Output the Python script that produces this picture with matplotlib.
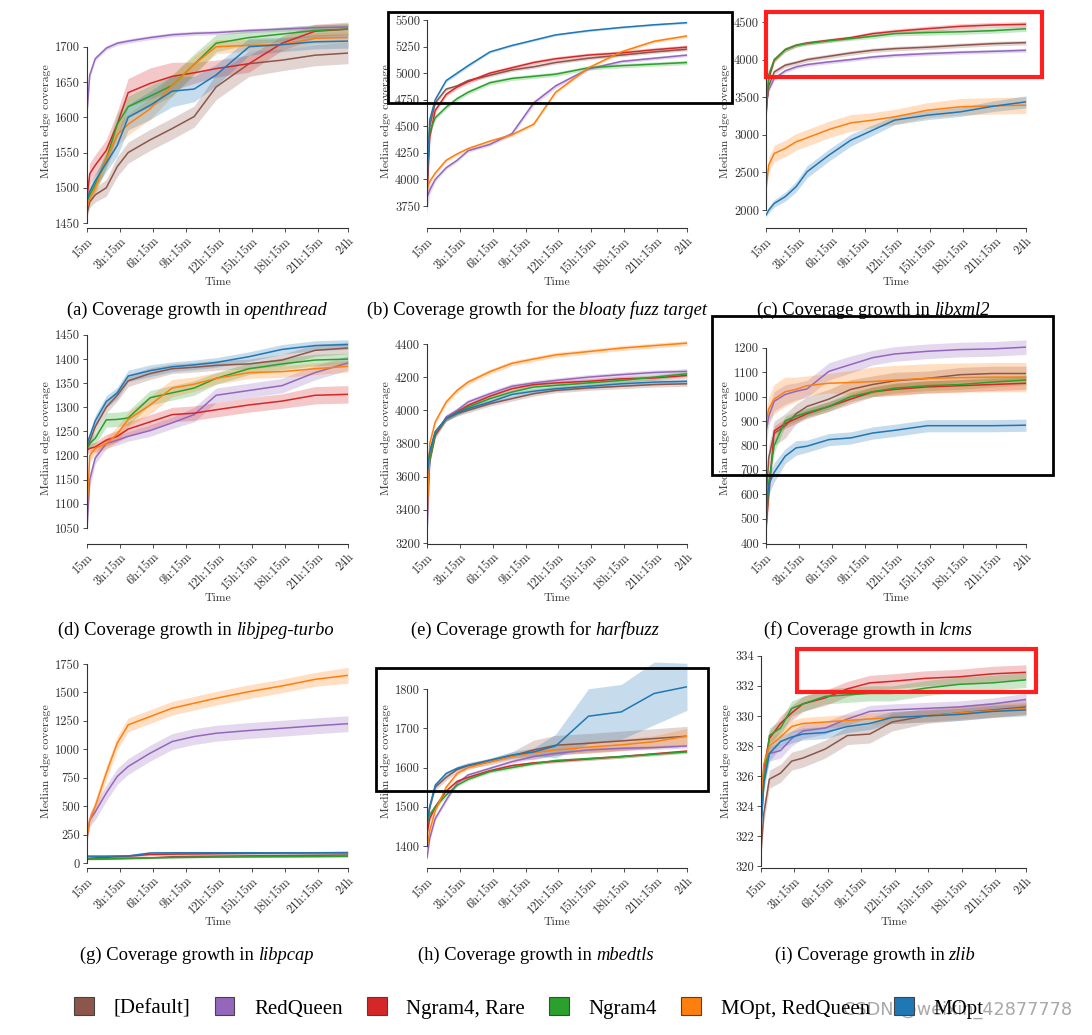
import matplotlib
matplotlib.use("Agg")
import matplotlib.pyplot as plt
import numpy as np
from matplotlib.patches import Patch, Rectangle
from matplotlib.offsetbox import AnchoredOffsetbox, HPacker, TextArea

W, H = 1092, 1035

# sample times (minutes since start)
TIME_MIN = [15, 30, 60, 120, 180, 240, 360, 480, 600, 720, 900, 1080, 1260, 1440]
XTICK_POS = [15, 195, 375, 555, 735, 915, 1095, 1275, 1440]
XTICK_LABELS = ["15m", "3h:15m", "6h:15m", "9h:15m", "12h:15m", "15h:15m",
                "18h:15m", "21h:15m", "24h"]

CONFIGS = ["[Default]", "RedQueen", "Ngram4, Rare", "Ngram4", "MOpt, RedQueen", "MOpt"]
COLORS = ["#8c564b", "#9467bd", "#d62728", "#2ca02c", "#ff7f0e", "#1f77b4"]

# median coverage per config (order as CONFIGS), and half-width of the band
OPENTHREAD_MEDIAN = [
    [1463, 1480, 1490, 1500, 1530, 1550, 1568, 1584, 1601, 1643, 1676, 1681, 1688, 1691],
    [1607, 1660, 1683, 1698, 1705, 1708, 1713, 1717, 1719, 1720, 1723, 1725, 1727, 1728],
    [1485, 1520, 1532, 1553, 1590, 1635, 1648, 1658, 1663, 1669, 1676, 1705, 1722, 1725],
    [1480, 1490, 1505, 1540, 1590, 1615, 1630, 1645, 1675, 1705, 1713, 1718, 1723, 1725],
    [1472, 1485, 1500, 1540, 1575, 1590, 1612, 1645, 1675, 1700, 1702, 1703, 1712, 1713],
    [1483, 1495, 1510, 1535, 1560, 1600, 1617, 1637, 1640, 1660, 1700, 1703, 1707, 1708],
]
OPENTHREAD_SPREAD = [
    [5, 8, 10, 12, 14, 15, 15, 15, 15, 18, 18, 15, 15, 15],
    [8, 5, 3, 3, 3, 3, 3, 3, 3, 3, 3, 3, 4, 4],
    [8, 15, 15, 15, 18, 20, 22, 20, 15, 12, 12, 10, 10, 10],
    [5, 8, 10, 12, 15, 15, 15, 15, 15, 12, 10, 10, 8, 8],
    [5, 8, 10, 12, 15, 15, 15, 15, 12, 10, 8, 8, 8, 8],
    [5, 8, 10, 12, 15, 18, 20, 22, 18, 15, 12, 10, 10, 10],
]

BLOATY_MEDIAN = [
    [3900, 4500, 4720, 4850, 4880, 4930, 4980, 5030, 5060, 5100, 5140, 5170, 5200, 5225],
    [3830, 3900, 4000, 4110, 4180, 4270, 4330, 4430, 4720, 4880, 5040, 5110, 5140, 5170],
    [3850, 4400, 4650, 4800, 4870, 4920, 5000, 5050, 5100, 5135, 5170, 5190, 5220, 5245],
    [4150, 4450, 4580, 4680, 4760, 4820, 4910, 4950, 4970, 4990, 5050, 5070, 5085, 5100],
    [3920, 3980, 4060, 4180, 4240, 4290, 4360, 4420, 4520, 4820, 5050, 5200, 5300, 5350],
    [3950, 4560, 4750, 4930, 5000, 5070, 5200, 5260, 5310, 5360, 5400, 5430, 5455, 5475],
]
BLOATY_SPREAD = [
    [80, 30, 20, 15, 15, 15, 15, 15, 15, 15, 15, 15, 15, 15],
    [150, 40, 20, 15, 15, 15, 15, 20, 25, 20, 15, 15, 15, 15],
    [150, 40, 20, 20, 20, 20, 20, 20, 20, 20, 20, 20, 20, 20],
    [60, 30, 20, 20, 20, 20, 20, 20, 20, 20, 20, 20, 20, 20],
    [60, 20, 15, 15, 15, 15, 15, 15, 15, 15, 15, 15, 15, 15],
    [60, 30, 15, 15, 15, 15, 10, 10, 10, 10, 10, 10, 10, 10],
]

LIBXML2_MEDIAN = [
    [3350, 3650, 3836, 3925, 3960, 4000, 4044, 4088, 4124, 4146, 4165, 4190, 4212, 4226],
    [3400, 3600, 3748, 3850, 3903, 3934, 3969, 4000, 4035, 4058, 4080, 4097, 4110, 4124],
    [3239, 3748, 3991, 4133, 4190, 4221, 4257, 4292, 4345, 4376, 4411, 4442, 4460, 4469],
    [3280, 3800, 4000, 4130, 4190, 4215, 4250, 4280, 4310, 4345, 4360, 4370, 4385, 4410],
    [2287, 2600, 2752, 2818, 2907, 2960, 3071, 3159, 3195, 3239, 3327, 3372, 3385, 3394],
    [1934, 2000, 2088, 2177, 2310, 2509, 2730, 2929, 3062, 3195, 3261, 3305, 3380, 3438],
]
LIBXML2_SPREAD = [
    [40, 30, 30, 30, 30, 30, 30, 30, 30, 30, 30, 30, 30, 30],
    [40, 30, 25, 25, 25, 25, 25, 25, 25, 25, 25, 25, 25, 25],
    [40, 40, 30, 30, 25, 25, 25, 25, 30, 30, 35, 35, 35, 35],
    [40, 40, 30, 30, 25, 25, 25, 25, 30, 30, 35, 35, 35, 35],
    [60, 100, 110, 110, 110, 110, 110, 110, 100, 100, 100, 110, 110, 110],
    [30, 40, 50, 60, 70, 80, 80, 80, 70, 60, 60, 60, 70, 80],
]

LIBJPEG_MEDIAN = [
    [1220, 1230, 1260, 1300, 1325, 1355, 1370, 1380, 1383, 1387, 1390, 1398, 1418, 1423],
    [1050, 1150, 1195, 1225, 1232, 1240, 1252, 1268, 1285, 1325, 1335, 1345, 1372, 1392],
    [1212, 1215, 1218, 1232, 1240, 1255, 1270, 1285, 1288, 1295, 1305, 1313, 1325, 1327],
    [1215, 1225, 1236, 1274, 1275, 1278, 1320, 1330, 1340, 1360, 1380, 1390, 1398, 1400],
    [1085, 1200, 1215, 1225, 1245, 1275, 1305, 1340, 1348, 1360, 1372, 1374, 1380, 1385],
    [1225, 1240, 1272, 1312, 1330, 1365, 1376, 1384, 1388, 1393, 1405, 1420, 1428, 1430],
]
LIBJPEG_SPREAD = [
    [8, 10, 10, 12, 12, 12, 12, 10, 10, 10, 10, 12, 12, 12],
    [15, 15, 12, 10, 10, 10, 12, 12, 15, 15, 15, 15, 15, 15],
    [8, 10, 10, 12, 12, 15, 15, 15, 15, 15, 15, 15, 18, 18],
    [8, 10, 12, 15, 15, 15, 15, 15, 15, 12, 12, 12, 12, 12],
    [15, 12, 10, 12, 15, 15, 18, 18, 15, 12, 12, 12, 12, 12],
    [8, 10, 12, 12, 12, 12, 12, 10, 10, 10, 10, 10, 10, 10],
]

HARFBUZZ_MEDIAN = [
    [3650, 3750, 3870, 3950, 3980, 4000, 4040, 4070, 4100, 4120, 4135, 4145, 4155, 4160],
    [3250, 3700, 3850, 3960, 4000, 4050, 4100, 4145, 4165, 4180, 4200, 4215, 4228, 4235],
    [3450, 3700, 3850, 3950, 3990, 4030, 4085, 4130, 4155, 4165, 4175, 4190, 4195, 4210],
    [3500, 3700, 3860, 3950, 3985, 4020, 4070, 4110, 4140, 4150, 4165, 4180, 4200, 4220],
    [3330, 3800, 3930, 4050, 4120, 4170, 4233, 4283, 4309, 4334, 4354, 4375, 4390, 4405],
    [3600, 3750, 3870, 3950, 3985, 4010, 4050, 4095, 4115, 4130, 4145, 4160, 4170, 4175],
]
HARFBUZZ_SPREAD = [
    [30, 20, 15, 15, 15, 15, 15, 15, 15, 15, 15, 15, 15, 15],
    [30, 25, 20, 15, 15, 15, 15, 15, 15, 15, 15, 15, 15, 15],
    [30, 20, 15, 15, 15, 15, 15, 15, 15, 15, 15, 15, 15, 15],
    [30, 20, 15, 15, 15, 15, 15, 15, 15, 15, 15, 15, 15, 15],
    [30, 20, 15, 15, 15, 15, 15, 15, 15, 15, 15, 15, 15, 15],
    [30, 20, 15, 15, 15, 15, 15, 15, 15, 15, 15, 15, 15, 15],
]

LCMS_MEDIAN = [
    [570, 750, 850, 880, 930, 960, 990, 1030, 1050, 1065, 1075, 1090, 1095, 1095],
    [855, 920, 981, 1009, 1022, 1032, 1104, 1132, 1160, 1175, 1186, 1193, 1196, 1203],
    [460, 600, 860, 890, 910, 930, 960, 990, 1020, 1030, 1040, 1045, 1050, 1055],
    [460, 650, 800, 900, 920, 935, 960, 1000, 1020, 1035, 1045, 1050, 1060, 1068],
    [895, 950, 990, 1020, 1030, 1045, 1055, 1058, 1062, 1068, 1075, 1078, 1080, 1080],
    [530, 640, 690, 756, 790, 797, 824, 831, 851, 862, 881, 881, 881, 883],
]
LCMS_SPREAD = [
    [40, 50, 50, 50, 40, 40, 40, 40, 35, 35, 30, 30, 30, 30],
    [50, 40, 40, 40, 35, 35, 35, 35, 30, 30, 30, 30, 30, 30],
    [30, 40, 20, 20, 20, 20, 20, 20, 20, 25, 25, 25, 25, 25],
    [30, 40, 30, 20, 20, 20, 20, 20, 20, 20, 20, 20, 20, 20],
    [40, 50, 60, 60, 50, 40, 40, 50, 60, 60, 60, 60, 60, 60],
    [30, 40, 40, 30, 30, 25, 25, 25, 25, 25, 25, 25, 25, 25],
]

LIBPCAP_MEDIAN = [
    [35, 35, 35, 36, 38, 40, 45, 55, 58, 60, 63, 65, 68, 70],
    [230, 380, 450, 615, 761, 849, 966, 1068, 1112, 1141, 1165, 1185, 1206, 1225],
    [40, 42, 45, 50, 55, 60, 75, 78, 80, 82, 85, 88, 90, 90],
    [35, 35, 36, 38, 40, 42, 45, 48, 50, 52, 54, 55, 56, 58],
    [220, 381, 498, 790, 1054, 1215, 1288, 1361, 1405, 1449, 1507, 1557, 1615, 1650],
    [60, 60, 60, 60, 62, 62, 88, 90, 90, 90, 90, 90, 90, 92],
]
LIBPCAP_SPREAD = [
    [8, 8, 8, 8, 8, 8, 10, 10, 10, 10, 10, 10, 10, 10],
    [40, 60, 70, 70, 70, 70, 70, 70, 70, 70, 70, 70, 70, 70],
    [8, 8, 10, 10, 10, 12, 12, 12, 12, 12, 12, 12, 12, 12],
    [6, 6, 6, 6, 6, 6, 6, 6, 6, 6, 6, 6, 6, 6],
    [40, 50, 60, 60, 60, 60, 60, 60, 60, 60, 60, 60, 60, 70],
    [15, 15, 12, 12, 12, 12, 10, 10, 10, 10, 10, 10, 10, 10],
]

MBEDTLS_MEDIAN = [
    [1450, 1500, 1550, 1575, 1595, 1605, 1615, 1630, 1645, 1657, 1662, 1668, 1674, 1680],
    [1370, 1420, 1470, 1517, 1560, 1581, 1598, 1615, 1628, 1636, 1645, 1649, 1651, 1655],
    [1430, 1470, 1500, 1540, 1565, 1575, 1592, 1605, 1612, 1616, 1622, 1628, 1635, 1642],
    [1460, 1480, 1500, 1530, 1555, 1570, 1590, 1600, 1610, 1618, 1623, 1628, 1634, 1640],
    [1395, 1440, 1490, 1550, 1585, 1600, 1615, 1628, 1638, 1645, 1652, 1658, 1666, 1680],
    [1462, 1500, 1555, 1585, 1598, 1606, 1619, 1632, 1640, 1655, 1731, 1742, 1789, 1806],
]
MBEDTLS_SPREAD = [
    [10, 8, 8, 8, 8, 8, 8, 10, 25, 25, 25, 25, 25, 25],
    [10, 8, 6, 5, 5, 5, 5, 5, 5, 5, 5, 5, 5, 5],
    [10, 8, 6, 5, 4, 4, 4, 4, 4, 4, 4, 4, 4, 4],
    [10, 8, 6, 5, 4, 4, 4, 4, 4, 4, 4, 4, 4, 4],
    [10, 8, 6, 5, 5, 5, 5, 5, 8, 10, 15, 15, 15, 20],
    [10, 8, 6, 5, 5, 5, 5, 8, 10, 30, 70, 70, 80, 60],
]

ZLIB_MEDIAN = [
    [321.0, 323.5, 325.8, 326.2, 327.0, 327.2, 327.8, 328.7, 328.8, 329.6, 330.0, 330.2, 330.4, 330.6],
    [324.3, 326.0, 327.5, 327.7, 328.5, 329.0, 329.2, 329.8, 330.3, 330.4, 330.5, 330.6, 330.8, 331.1],
    [323.0, 326.5, 328.5, 329.5, 330.2, 330.8, 331.2, 331.8, 332.2, 332.3, 332.5, 332.6, 332.8, 332.9],
    [323.0, 325.5, 328.7, 329.2, 330.5, 330.8, 331.3, 331.4, 331.5, 331.5, 331.85, 332.1, 332.2, 332.4],
    [324.5, 326.8, 328.0, 328.6, 329.3, 329.5, 329.6, 329.7, 329.8, 329.9, 330.0, 330.2, 330.35, 330.5],
    [322.5, 325.5, 327.5, 328.3, 328.6, 328.8, 328.9, 329.3, 329.5, 329.9, 330.0, 330.1, 330.3, 330.4],
]
ZLIB_SPREAD = [
    [0.5, 0.6, 0.6, 0.6, 0.6, 0.6, 0.6, 0.6, 0.6, 0.6, 0.5, 0.5, 0.5, 0.5],
    [0.4, 0.5, 0.5, 0.5, 0.5, 0.5, 0.4, 0.4, 0.4, 0.4, 0.4, 0.4, 0.4, 0.4],
    [0.4, 0.5, 0.5, 0.5, 0.5, 0.5, 0.5, 0.5, 0.5, 0.5, 0.5, 0.5, 0.5, 0.5],
    [0.4, 0.5, 0.5, 0.5, 0.5, 0.5, 0.5, 0.5, 0.5, 0.5, 0.5, 0.5, 0.5, 0.5],
    [0.4, 0.5, 0.5, 0.4, 0.4, 0.4, 0.4, 0.4, 0.4, 0.4, 0.4, 0.4, 0.4, 0.4],
    [0.4, 0.5, 0.5, 0.4, 0.4, 0.4, 0.4, 0.4, 0.4, 0.4, 0.4, 0.4, 0.4, 0.4],
]

# (caption prefix, italic name, median, spread, yticks, ylim, axes box px (l, r, top, bottom), caption centre px)
PANELS = [
    ("(a) Coverage growth in", "openthread", OPENTHREAD_MEDIAN, OPENTHREAD_SPREAD,
     range(1450, 1701, 50), (1443, 1745), (87, 348, 15, 228), (197, 310)),
    ("(b) Coverage growth for the", "bloaty fuzz target", BLOATY_MEDIAN, BLOATY_SPREAD,
     range(3750, 5501, 250), (3543, 5547), (427, 687, 15, 228), (537, 310)),
    ("(c) Coverage growth in", "libxml2", LIBXML2_MEDIAN, LIBXML2_SPREAD,
     range(2000, 4501, 500), (1761, 4593), (766, 1026, 15, 228), (873, 310)),
    ("(d) Coverage growth in", "libjpeg-turbo", LIBJPEG_MEDIAN, LIBJPEG_SPREAD,
     range(1050, 1451, 50), (1017, 1454), (87, 348, 333, 544), (196, 630)),
    ("(e) Coverage growth for", "harfbuzz", HARFBUZZ_MEDIAN, HARFBUZZ_SPREAD,
     range(3200, 4401, 200), (3194, 4466), (427, 687, 333, 544), (535, 630)),
    ("(f) Coverage growth in", "lcms", LCMS_MEDIAN, LCMS_SPREAD,
     range(400, 1201, 100), (396, 1261), (766, 1026, 333, 544), (868, 630)),
    ("(g) Coverage growth in", "libpcap", LIBPCAP_MEDIAN, LIBPCAP_SPREAD,
     range(0, 1751, 250), (-44, 1829), (87, 348, 655, 868), (197, 955)),
    ("(h) Coverage growth in", "mbedtls", MBEDTLS_MEDIAN, MBEDTLS_SPREAD,
     range(1400, 1801, 100), (1344, 1887), (427, 687, 655, 868), (536, 955)),
    ("(i) Coverage growth in", "zlib", ZLIB_MEDIAN, ZLIB_SPREAD,
     range(320, 335, 2), (319.9, 334.05), (761, 1026, 655, 868), (875, 955)),
]

# highlight boxes drawn over the figure (px: x0, y0, x1, y1)
BLACK_BOXES = [(388, 12, 732, 103), (712, 316, 1053, 475), (376, 668, 708, 791)]
RED_BOXES = [(766, 12, 1042, 77), (797, 649, 1036, 692)]

TICK_FONT = "cmr10"
TEXT_FONT = "Liberation Serif"
INK = "#333333"

fig = plt.figure(figsize=(W / 100, H / 100), dpi=100)
t = np.array(TIME_MIN)

for prefix, name, median, spread, yticks, ylim, box, cap in PANELS:
    left, right, top, bottom = box
    ax = fig.add_axes([left / W, 1 - bottom / H, (right - left) / W, (bottom - top) / H])
    for med, sp, color in zip(median, spread, COLORS):
        med = np.array(med, dtype=float)
        sp = np.array(sp, dtype=float)
        ax.fill_between(t, med - sp, med + sp, color=color, alpha=0.25, lw=0)
        ax.plot(t, med, color=color, lw=1.1)

    ax.set_xlim(15, 1440)
    ax.set_ylim(*ylim)
    yt = list(yticks)
    ax.set_yticks(yt)
    ax.set_yticklabels([f"{v:g}" for v in yt], fontfamily=TICK_FONT, fontsize=9)
    ax.set_xticks(XTICK_POS)
    ax.set_xticklabels(XTICK_LABELS, fontfamily=TICK_FONT, fontsize=9,
                       rotation=45, ha="right", rotation_mode="anchor")
    for side in ("top", "right"):
        ax.spines[side].set_visible(False)
    ax.spines["left"].set_bounds(yt[0], yt[-1])
    ax.spines["bottom"].set_bounds(15, 1440)
    for side in ("left", "bottom"):
        ax.spines[side].set_linewidth(0.8)
        ax.spines[side].set_color(INK)
    ax.tick_params(length=3, width=0.6, pad=2, colors=INK)
    ax.set_ylabel("Median edge coverage", fontfamily=TICK_FONT, fontsize=8.5,
                  color=INK, labelpad=3)
    ax.set_xlabel("Time", fontfamily=TICK_FONT, fontsize=8.5, color=INK, labelpad=1)
    ax.set_facecolor("none")

    # caption with italic target name
    roman = TextArea(prefix, textprops=dict(fontfamily=TEXT_FONT, fontsize=13.3))
    italic = TextArea(name, textprops=dict(fontfamily=TEXT_FONT, fontsize=13.3, style="italic"))
    pack = HPacker(children=[roman, italic], align="baseline", pad=0, sep=3)
    anchored = AnchoredOffsetbox(loc="center", child=pack, pad=0, frameon=False,
                                 bbox_to_anchor=(cap[0] / W, 1 - cap[1] / H),
                                 bbox_transform=fig.transFigure, borderpad=0)
    fig.add_artist(anchored)

handles = [Patch(facecolor=c, edgecolor="#444444", linewidth=0.8) for c in COLORS]
fig.legend(handles, CONFIGS, loc="center", bbox_to_anchor=(529 / W, 1 - 1008 / H),
           ncol=6, frameon=False, prop=dict(family=TEXT_FONT, size=15),
           handlelength=0.95, handleheight=0.95, handletextpad=0.95, columnspacing=1.15)

for x0, y0, x1, y1 in BLACK_BOXES:
    fig.add_artist(Rectangle((x0 / W, 1 - y1 / H), (x1 - x0) / W, (y1 - y0) / H,
                             transform=fig.transFigure, fill=False, ec="black", lw=2))
for x0, y0, x1, y1 in RED_BOXES:
    fig.add_artist(Rectangle((x0 / W, 1 - y1 / H), (x1 - x0) / W, (y1 - y0) / H,
                             transform=fig.transFigure, fill=False, ec="#ff1f1f", lw=3))

fig.text(1072 / W, 1 - 1010 / H, "CSDN @weixin_42877778", ha="right", va="center",
         fontsize=12.7, color="#a0a0a0", fontfamily="DejaVu Sans", alpha=0.9)

fig.savefig("out.png", dpi=100)
